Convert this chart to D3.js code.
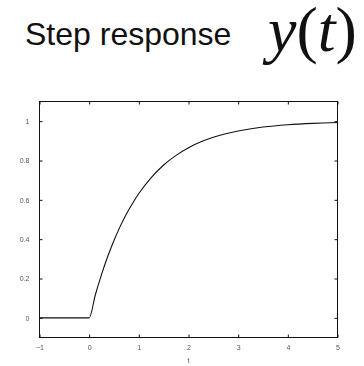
<!DOCTYPE html>
<html>
<head>
<meta charset="utf-8">
<script src="https://cdn.jsdelivr.net/npm/d3@7"></script>
<style>
  html, body { margin: 0; padding: 0; background: #fff; }
  svg { display: block; }
  .axis text { will-change: transform; }
</style>
</head>
<body>
<svg id="chart" width="364" height="366"></svg>
<script>
// Step response samples (t, y)
const tValues = [-1, -0.5, 0, 0.125, 0.25, 0.375, 0.5, 0.625, 0.75, 0.875, 1, 1.25, 1.5, 1.75, 2, 2.25, 2.5, 2.75, 3, 3.5, 4, 4.5, 5];
const yValues = [0, 0, 0, 0.1175, 0.221, 0.313, 0.393, 0.465, 0.528, 0.583, 0.632, 0.713, 0.777, 0.826, 0.865, 0.895, 0.918, 0.936, 0.950, 0.970, 0.982, 0.989, 0.993];
const xTicks = [-1, 0, 1, 2, 3, 4, 5];
const yTicks = [0, 0.2, 0.4, 0.6, 0.8, 1];

const svg = d3.select("#chart");
const box = { left: 39.5, right: 337.5, top: 101.5, bottom: 337.5 };

const x = d3.scaleLinear().domain([-1, 5]).range([box.left, box.right]);
const y = d3.scaleLinear().domain([-0.1, 1.1]).range([box.bottom, box.top]);

// Title
svg.append("text")
  .attr("x", 25).attr("y", 45)
  .attr("font-family", "Liberation Sans, Arial, sans-serif")
  .attr("font-size", 32)
  .attr("fill", "#111")
  .text("Step response");

svg.append("text")
  .attr("x", 268).attr("y", 51)
  .attr("font-family", "Liberation Serif, Times New Roman, serif")
  .attr("font-size", 64)
  .attr("fill", "#111")
  .html('<tspan font-style="italic">y</tspan>(<tspan font-style="italic">t</tspan>)');

const tickFont = "Liberation Sans, Arial, sans-serif";
const tickLen = 3;

// Bottom and left axes with inward ticks; top and right mirror the ticks
const xAxis = d3.axisBottom(x).tickValues(xTicks).tickSizeInner(-tickLen).tickSizeOuter(0).tickPadding(8)
  .tickFormat(d3.format("d"));
const yAxis = d3.axisLeft(y).tickValues(yTicks).tickSizeInner(-tickLen).tickSizeOuter(0).tickPadding(10)
  .tickFormat(d => d === 0 || d === 1 ? String(d) : d3.format(".1f")(d));
const xTop = d3.axisTop(x).tickValues(xTicks).tickSizeInner(-tickLen).tickSizeOuter(0).tickFormat("");
const yRight = d3.axisRight(y).tickValues(yTicks).tickSizeInner(-tickLen).tickSizeOuter(0).tickFormat("");

function styleAxis(g) {
  g.attr("class", "axis");
  g.select(".domain").remove();
  g.selectAll(".tick line").attr("stroke", "#111");
  g.selectAll(".tick text").attr("font-family", tickFont).attr("font-size", 7).attr("fill", "#555");
}

svg.append("g").attr("transform", `translate(0,${box.bottom})`).call(xAxis).call(styleAxis);
svg.append("g").attr("transform", `translate(${box.left},0)`).call(yAxis).call(styleAxis);
svg.append("g").attr("transform", `translate(0,${box.top})`).call(xTop).call(styleAxis);
svg.append("g").attr("transform", `translate(${box.right},0)`).call(yRight).call(styleAxis);

// Frame
svg.append("rect")
  .attr("x", box.left).attr("y", box.top)
  .attr("width", box.right - box.left).attr("height", box.bottom - box.top)
  .attr("fill", "none").attr("stroke", "#111").attr("stroke-width", 1);

// Axis label
svg.append("text")
  .attr("class", "axis")
  .attr("x", x(2)).attr("y", 363)
  .attr("text-anchor", "middle")
  .attr("font-family", tickFont).attr("font-size", 7).attr("fill", "#555")
  .text("t");

// Response curve
const pts = tValues.map((t, i) => [t, yValues[i]]);
const line = d3.line().x(d => x(d[0])).y(d => y(d[1])).curve(d3.curveMonotoneX);
svg.append("path")
  .datum(pts)
  .attr("d", line)
  .attr("fill", "none")
  .attr("stroke", "#111")
  .attr("stroke-width", 1.1);
</script>
</body>
</html>
